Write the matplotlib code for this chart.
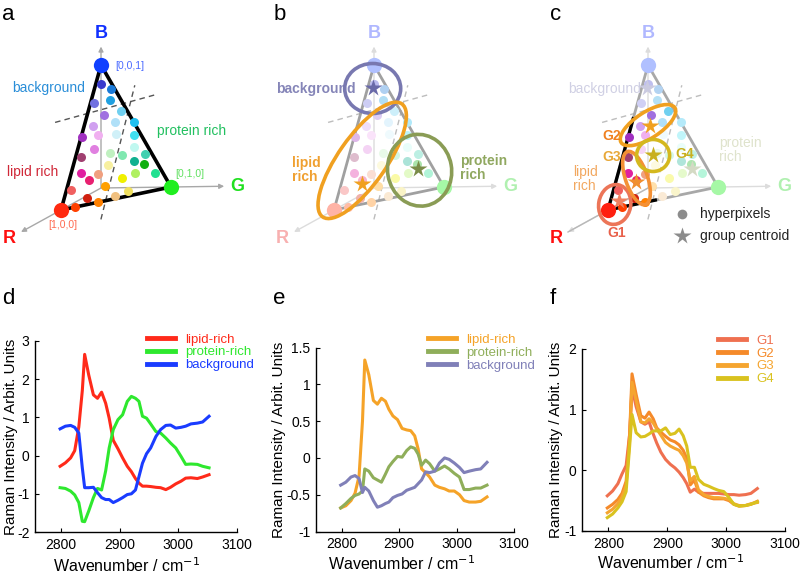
import numpy as np
import matplotlib
matplotlib.use('Agg')
import matplotlib.pyplot as plt
from matplotlib.patches import Ellipse
from matplotlib.ticker import FuncFormatter
from matplotlib.colors import to_rgb

plt.rcParams['font.family'] = ['Liberation Sans', 'DejaVu Sans']
plt.rcParams['axes.unicode_minus'] = False

# ---------------- spectra data ----------------
wavenumber = [2798, 2807, 2816, 2823, 2830, 2836, 2840, 2847, 2855, 2862, 2869, 2876,
              2882, 2889, 2897, 2905, 2913, 2920, 2927, 2933, 2939, 2946, 2953, 2962,
              2970, 2979, 2987, 2996, 3005, 3013, 3022, 3033, 3042, 3053]

d_lipid = [-0.28, -0.19, -0.06, 0.13, 0.75, 1.70, 2.65, 2.11, 1.59, 1.50, 1.66, 1.37,
           0.98, 0.40, 0.18, -0.06, -0.28, -0.42, -0.60, -0.72, -0.80, -0.80, -0.81, -0.83,
           -0.84, -0.89, -0.83, -0.74, -0.67, -0.59, -0.58, -0.60, -0.56, -0.50]
d_protein = [-0.84, -0.86, -0.93, -1.03, -1.23, -1.72, -1.73, -1.45, -1.10, -0.86, -0.90, -0.40,
             0.20, 0.68, 0.94, 1.07, 1.42, 1.55, 1.50, 1.42, 1.03, 0.98, 0.83, 0.63,
             0.59, 0.46, 0.33, 0.20, -0.02, -0.23, -0.22, -0.23, -0.28, -0.32]
d_background = [0.70, 0.77, 0.79, 0.74, 0.59, -0.32, -0.84, -0.84, -0.83, -0.97, -1.10, -1.15,
                -1.15, -1.23, -1.17, -1.10, -1.02, -1.00, -0.90, -0.55, -0.20, 0.05, 0.20, 0.50,
                0.68, 0.79, 0.80, 0.72, 0.74, 0.77, 0.83, 0.85, 0.88, 1.03]

e_lipid = [-0.68, -0.65, -0.58, -0.48, -0.25, 0.50, 1.33, 1.13, 0.78, 0.73, 0.81, 0.77,
           0.66, 0.57, 0.52, 0.40, 0.38, 0.37, 0.30, 0.12, -0.15, -0.20, -0.26, -0.37,
           -0.40, -0.42, -0.45, -0.45, -0.50, -0.58, -0.60, -0.60, -0.59, -0.53]
e_protein = [-0.68, -0.62, -0.55, -0.51, -0.49, -0.45, -0.15, -0.18, -0.27, -0.30, -0.33, -0.22,
             -0.12, -0.05, 0.02, 0.01, 0.10, 0.15, 0.13, 0.05, -0.10, -0.03, -0.08, -0.18,
             -0.15, -0.11, -0.15, -0.21, -0.26, -0.43, -0.43, -0.41, -0.41, -0.37]
e_background = [-0.37, -0.33, -0.26, -0.24, -0.28, -0.47, -0.40, -0.45, -0.58, -0.67, -0.65, -0.62,
                -0.60, -0.54, -0.51, -0.49, -0.44, -0.42, -0.40, -0.35, -0.30, -0.19, -0.20, -0.18,
                -0.07, 0.00, -0.02, -0.07, -0.13, -0.20, -0.18, -0.16, -0.15, -0.06]

f_g1 = [-0.42, -0.34, -0.22, -0.06, 0.08, 0.60, 1.35, 1.05, 0.80, 0.76, 0.80, 0.60,
        0.45, 0.30, 0.18, 0.10, 0.04, -0.03, -0.12, -0.22, -0.36, -0.31, -0.36, -0.38,
        -0.38, -0.38, -0.38, -0.39, -0.40, -0.40, -0.41, -0.40, -0.38, -0.30]
f_g2 = [-0.62, -0.56, -0.48, -0.38, -0.18, 0.60, 1.59, 1.25, 0.90, 0.86, 0.96, 0.85,
        0.70, 0.63, 0.56, 0.50, 0.47, 0.42, 0.33, 0.20, -0.24, -0.16, -0.36, -0.42,
        -0.45, -0.47, -0.47, -0.47, -0.50, -0.56, -0.59, -0.58, -0.56, -0.51]
f_g3 = [-0.70, -0.64, -0.55, -0.44, -0.25, 0.50, 1.45, 1.15, 0.80, 0.78, 0.85, 0.78,
        0.68, 0.58, 0.46, 0.40, 0.36, 0.33, 0.24, 0.12, -0.17, -0.10, -0.32, -0.40,
        -0.43, -0.45, -0.45, -0.46, -0.48, -0.55, -0.58, -0.58, -0.55, -0.53]
f_g4 = [-0.78, -0.72, -0.62, -0.52, -0.35, 0.40, 0.92, 0.62, 0.55, 0.56, 0.60, 0.65,
        0.65, 0.65, 0.70, 0.59, 0.61, 0.68, 0.57, 0.40, 0.05, 0.05, -0.15, -0.23,
        -0.26, -0.30, -0.33, -0.35, -0.45, -0.56, -0.59, -0.58, -0.56, -0.52]

# ---------------- ternary hyperpixel data (r, g, b fractions) ----------------
pix_r = [0.09, 0.03, 0.24, 0.09, 0.21, 0.05, 0.00, 0.35, 0.15, 0.35, 0.20, 0.06,
         0.49, 0.45, 0.59, 0.34, 0.25, 0.11, 0.06, 0.18, 0.11, 0.67, 0.53, 0.63,
         0.41, 0.36, 0.23, 0.06, 0.83, 0.53, 0.37, 0.50, 0.73, 0.66, 0.87]
pix_g = [0.05, 0.16, 0.03, 0.18, 0.16, 0.32, 0.47, 0.08, 0.29, 0.16, 0.33, 0.50,
         0.01, 0.15, 0.05, 0.32, 0.44, 0.54, 0.66, 0.57, 0.68, 0.09, 0.26, 0.19,
         0.33, 0.50, 0.61, 0.81, 0.04, 0.36, 0.59, 0.48, 0.22, 0.34, 0.13]
pix_b = [0.86, 0.81, 0.73, 0.73, 0.63, 0.63, 0.53, 0.57, 0.56, 0.49, 0.47, 0.44,
         0.50, 0.40, 0.36, 0.34, 0.31, 0.35, 0.28, 0.25, 0.21, 0.24, 0.21, 0.18,
         0.26, 0.14, 0.16, 0.13, 0.13, 0.11, 0.04, 0.02, 0.05, 0.00, 0.00]
pix_color = ['#3a3acc', '#1a7ad8', '#7070e0', '#20a0e0', '#a070e0', '#70d0f0', '#20c0f0',
             '#d0a0f0', '#b0e0f8', '#f0b0f0', '#d0f0f8', '#40e0f0', '#a030c0', '#e080e0',
             '#a04070', '#c0f0c0', '#80e8b0', '#c0f8f0', '#40d0b0', '#10b090', '#10b010',
             '#e020a0', '#f0a080', '#e82070', '#f8f0a0', '#f0f000', '#b0f060', '#20e090',
             '#f06060', '#ffa000', '#f0e060', '#f0c080', '#d02010', '#ff8000', '#ff4000']

# group centroids (r, g, b)
cent_b = {'background': (0.12, 0.05, 0.83), 'lipid': (0.65, 0.20, 0.15), 'protein': (0.13, 0.70, 0.17)}
cent_c = {'G1': (0.87, 0.08, 0.05), 'G2': (0.27, 0.18, 0.55), 'G3': (0.64, 0.20, 0.16),
          'G4': (0.38, 0.29, 0.33)}

# decision boundaries (barycentric end points)
dash1 = [(0.64, -0.29, 0.65), (-0.32, 0.62, 0.70)]
dash2 = [(0.72, 0.41, -0.13), (-0.18, 0.38, 0.80)]

# ---------------- figure ----------------
fig = plt.figure(figsize=(8, 5.74), dpi=100)
top = fig.add_axes([0, 0, 1, 1])
top.set_xlim(0, 800)
top.set_ylim(574, 0)
top.axis('off')

OX = [101, 374, 648]
OY = 188
RV = (-40, 22)
GV = (70, -1)
BV = (0, -123)


def P(r, g, b, k):
    return (OX[k] + r * RV[0] + g * GV[0] + b * BV[0],
            OY + r * RV[1] + g * GV[1] + b * BV[1])


def fade(c, f=0.35):
    rgb = np.array(to_rgb(c))
    return tuple(rgb * f + (1 - f))


def axes_arrows(k, col, lw=1.0):
    o = P(0, 0, 0, k)
    for end in [P(0, 0, 1.15, k), P(0, 1.76, 0, k), P(2.0, 0, 0, k)]:
        top.annotate('', xy=end, xytext=o,
                     arrowprops=dict(arrowstyle='-|>', color=col, lw=lw, mutation_scale=7,
                                     shrinkA=0, shrinkB=0), zorder=1)


def axis_letters(k, cols, weight='bold'):
    for (pt, txt, c) in [(P(0, 0, 1.26, k), 'B', cols[0]), (P(0, 1.94, 0, k), 'G', cols[1]),
                         (P(2.3, 0, 0, k), 'R', cols[2])]:
        top.text(pt[0], pt[1], txt, color=c, fontsize=13, fontweight=weight,
                 ha='center', va='center')


def dashes(k, col):
    for seg in [dash1, dash2]:
        p0 = P(*seg[0], k)
        p1 = P(*seg[1], k)
        top.plot([p0[0], p1[0]], [p0[1], p1[1]], ls=(0, (4, 3)), color=col, lw=1.0, zorder=2)


def triangle(k, col, lw):
    vs = [P(1, 0, 0, k), P(0, 1, 0, k), P(0, 0, 1, k), P(1, 0, 0, k)]
    top.plot([v[0] for v in vs], [v[1] for v in vs], color=col, lw=lw, zorder=3,
             solid_joinstyle='miter')


def dots(k, alphas):
    for r, g, b, c, a in zip(pix_r, pix_g, pix_b, pix_color, alphas):
        x, y = P(r, g, b, k)
        top.plot(x, y, 'o', ms=6.5, mec='none', color=fade(c, a), zorder=4)


def vertices(k, cols):
    for (v, c) in zip([P(0, 0, 1, k), P(0, 1, 0, k), P(1, 0, 0, k)], cols):
        top.plot(v[0], v[1], 'o', ms=11, mec='none', color=c, zorder=5)


def in_ellipse(pt, c, w, h, ang):
    d = np.array(pt) - np.array(c)
    t = np.deg2rad(ang)
    u = d[0] * np.cos(t) + d[1] * np.sin(t)
    v = -d[0] * np.sin(t) + d[1] * np.cos(t)
    return (u / (w / 2)) ** 2 + (v / (h / 2)) ** 2 <= 1.25


# ---------- panel a ----------
axes_arrows(0, '#a8a8a8')
axis_letters(0, ['#1030ff', '#20e020', '#ff1010'])
dashes(0, '#555555')
triangle(0, 'black', 2.6)
dots(0, [1.0] * len(pix_r))
vertices(0, ['#1040ff', '#20ee20', '#ff2a10'])
vb, vg, vr = P(0, 0, 1, 0), P(0, 1, 0, 0), P(1, 0, 0, 0)
top.text(vb[0] + 14, vb[1] + 1, '[0,0,1]', color='#4a6aff', fontsize=7.5, ha='left', va='center')
top.text(vg[0] + 4, vg[1] - 13, '[0,1,0]', color='#60e060', fontsize=7.5, ha='left', va='center')
top.text(vr[0] + 2, vr[1] + 15, '[1,0,0]', color='#ff6a50', fontsize=7.5, ha='center', va='center')
top.text(12, 88, 'background', color='#2a8ed8', fontsize=10, ha='left', va='center')
top.text(157, 131, 'protein rich', color='#22c060', fontsize=10, ha='left', va='center')
top.text(7, 172, 'lipid rich', color='#d02838', fontsize=10, ha='left', va='center')

# ---------- panel b ----------
axes_arrows(1, '#dcdcdc')
axis_letters(1, ['#b0b8ff', '#b0f0b0', '#f8b0b0'])
dashes(1, '#bdbdbd')
triangle(1, '#a0a0a0', 2.0)
dots(1, [0.35] * len(pix_r))
vertices(1, [fade('#6080ff', 0.5), fade('#20ee20', 0.4), fade('#ff4020', 0.4)])
ell_b = [
    (P(*cent_b['background'], 1), 56, 50, 0, '#7878b0'),
    (P(0.54, 0.14, 0.32, 1), 138, 48, -55, '#f0a020'),
    (P(0.12, 0.72, 0.16, 1), 64, 72, -10, '#8a9c55'),
]
for c, w, h, a, col in ell_b:
    top.add_patch(Ellipse(c, w, h, angle=a, fill=False, ec=col, lw=2.6, zorder=6))
for key, col in [('background', '#6a6aa8'), ('lipid', '#f0a020'), ('protein', '#7a8c48')]:
    x, y = P(*cent_b[key], 1)
    top.plot(x, y, '*', ms=13, color=col, mec='none', zorder=7)
top.text(276, 89, 'background', color='#8585b8', fontsize=10, fontweight='bold', ha='left', va='center')
top.text(292, 170, 'lipid\nrich', color='#f0a030', fontsize=10, fontweight='bold', ha='left',
         va='center', linespacing=1.05)
top.text(460, 168, 'protein\nrich', color='#90a860', fontsize=10, fontweight='bold', ha='left',
         va='center', linespacing=1.05)

# ---------- panel c ----------
axes_arrows(2, '#dcdcdc')
o2 = P(0, 0, 0, 2)
r2 = P(2.0, 0, 0, 2)
top.plot([o2[0], r2[0]], [o2[1], r2[1]], color='#b8b8b8', lw=1.0, zorder=1)
axis_letters(2, ['#b0b8ff', '#b0f0b0', '#ff1010'])
dashes(2, '#bdbdbd')
triangle(2, '#a8a8a8', 2.0)
pr = P(1, 0, 0, 2)
p_rb = P(0.37, 0.0, 0.63, 2)
p_rg = P(0.57, 0.43, 0.0, 2)
top.plot([p_rb[0], pr[0], p_rg[0]], [p_rb[1], pr[1], p_rg[1]], color='black', lw=2.4, zorder=3)

ell_c = [
    (P(0.92, 0.05, 0.03, 2), 40, 32, -80, '#ec7558'),
    (P(0.28, 0.16, 0.56, 2), 64, 26, -33, '#f0a020'),
    (P(0.62, 0.19, 0.19, 2), 56, 22, 71, '#f39035'),
    (P(*cent_c['G4'], 2), 33, 32, 0, '#d4b81e'),
]
sat = []
for r, g, b in zip(pix_r, pix_g, pix_b):
    pt = P(r, g, b, 2)
    sat.append(1.0 if any(in_ellipse(pt, c, w, h, a) for c, w, h, a, _ in ell_c[:3]) else 0.33)
dots(2, sat)
vertices(2, [fade('#6080ff', 0.5), fade('#20ee20', 0.4), '#ff2010'])
for c, w, h, a, col in ell_c:
    top.add_patch(Ellipse(c, w, h, angle=a, fill=False, ec=col, lw=2.6, zorder=6))
for key, col in [('G1', '#f08060'), ('G2', '#f0a020'), ('G3', '#f09030'), ('G4', '#c8b020')]:
    x, y = P(*cent_c[key], 2)
    top.plot(x, y, '*', ms=13, color=col, mec='none', zorder=7)
for key, col in [('background', '#cacae0'), ('protein', '#d4dac4')]:
    x, y = P(*cent_b[key], 2)
    top.plot(x, y, '*', ms=13, color=col, mec='none', zorder=7)
top.text(568, 89, 'background', color='#d0d0e4', fontsize=10, ha='left', va='center')
top.text(719, 150, 'protein\nrich', color='#dfe3cc', fontsize=10, ha='left', va='center', linespacing=1.05)
top.text(573, 179, 'lipid\nrich', color='#f2a860', fontsize=10, ha='left', va='center', linespacing=1.05)
top.text(602, 136, 'G2', color='#f08020', fontsize=10, fontweight='bold', ha='left', va='center', zorder=8)
top.text(602, 157, 'G3', color='#e8a838', fontsize=10, fontweight='bold', ha='left', va='center', zorder=8)
top.text(675, 154, 'G4', color='#c8b020', fontsize=10, fontweight='bold', ha='left', va='center', zorder=8)
top.text(617, 233, 'G1', color='#e8604a', fontsize=10, fontweight='bold', ha='center', va='center', zorder=8)
top.plot(682, 214, 'o', ms=7, color='#8c8c8c', mec='none')
top.plot(682, 236, '*', ms=13, color='#8c8c8c', mec='none')
top.text(700, 214, 'hyperpixels', fontsize=10, color='#222222', ha='left', va='center')
top.text(700, 236, 'group centroid', fontsize=10, color='#222222', ha='left', va='center')

# panel letters
for x, y, t in [(2, 14, 'a'), (274, 14, 'b'), (550, 14, 'c'), (2, 298, 'd'), (273, 298, 'e'), (550, 298, 'f')]:
    top.text(x, y, t, fontsize=16, ha='left', va='center', color='black')


# ---------- spectra panels ----------
def spec_axes(rect, ylim, yticks, ylab_x, xlab_x):
    ax = fig.add_axes(rect)
    ax.set_xlim(2755, 3100)
    ax.set_ylim(*ylim)
    ax.set_xticks([2800, 2900, 3000, 3100])
    ax.set_yticks(yticks)
    ax.yaxis.set_major_formatter(FuncFormatter(lambda v, p: f'{v:g}'))
    for s in ['top', 'right']:
        ax.spines[s].set_visible(False)
    for s in ['left', 'bottom']:
        ax.spines[s].set_linewidth(1.0)
    ax.tick_params(direction='in', length=3, width=0.8, labelsize=10, pad=4)
    ax.patch.set_alpha(0)
    ax.set_ylabel('Raman Intensity / Arbit. Units', fontsize=11)
    ax.set_xlabel('Wavenumber / cm$^{-1}$', fontsize=11.5)
    ax.yaxis.set_label_coords(ylab_x, 0.5)
    ax.xaxis.set_label_coords(xlab_x, -0.125)
    return ax


def legend(ax, anchor, cols):
    leg = ax.legend(loc='upper left', bbox_to_anchor=anchor, frameon=False, fontsize=9.5,
                    handlelength=2.1, handletextpad=0.8, labelspacing=0.05, borderpad=0,
                    borderaxespad=0)
    for line in leg.get_lines():
        line.set_linewidth(3.5)
    for t, c in zip(leg.get_texts(), cols):
        t.set_color(c)


H = 574.0
ax_d = spec_axes([35 / 800, (H - 532) / H, 201.5 / 800, 191 / H], (-2, 3), [-2, -1, 0, 1, 2, 3], -0.085, 0.457)
cols_d = ['#ff2a1a', '#2ee82e', '#1a3cff']
for ys, c, lab in zip([d_lipid, d_protein, d_background], cols_d, ['lipid-rich', 'protein-rich', 'background']):
    ax_d.plot(wavenumber, ys, color=c, lw=2.2, label=lab)
legend(ax_d, (0.556, 1.04), cols_d)

ax_e = spec_axes([316 / 800, (H - 531.5) / H, 198 / 800, 184 / H], (-1, 1.5), [-1, -0.5, 0, 0.5, 1, 1.5], -0.15, 0.434)
cols_e = ['#f5a328', '#8fae5a', '#8080b8']
for ys, c, lab in zip([e_lipid, e_protein, e_background], cols_e, ['lipid-rich', 'protein-rich', 'background']):
    ax_e.plot(wavenumber, ys, color=c, lw=2.2, label=lab)
legend(ax_e, (0.566, 1.076), cols_e)

ax_f = spec_axes([582 / 800, (H - 531) / H, 203 / 800, 182 / H], (-1, 2), [-1, 0, 1, 2], -0.095, 0.438)
cols_f = ['#ef7050', '#f58a2a', '#f5a530', '#d9c21f']
for ys, c, lab in zip([f_g1, f_g2, f_g3, f_g4], cols_f, ['G1', 'G2', 'G3', 'G4']):
    ax_f.plot(wavenumber, ys, color=c, lw=2.2, label=lab)
legend(ax_f, (0.67, 1.08), cols_f)

fig.savefig('out.png', dpi=100)
